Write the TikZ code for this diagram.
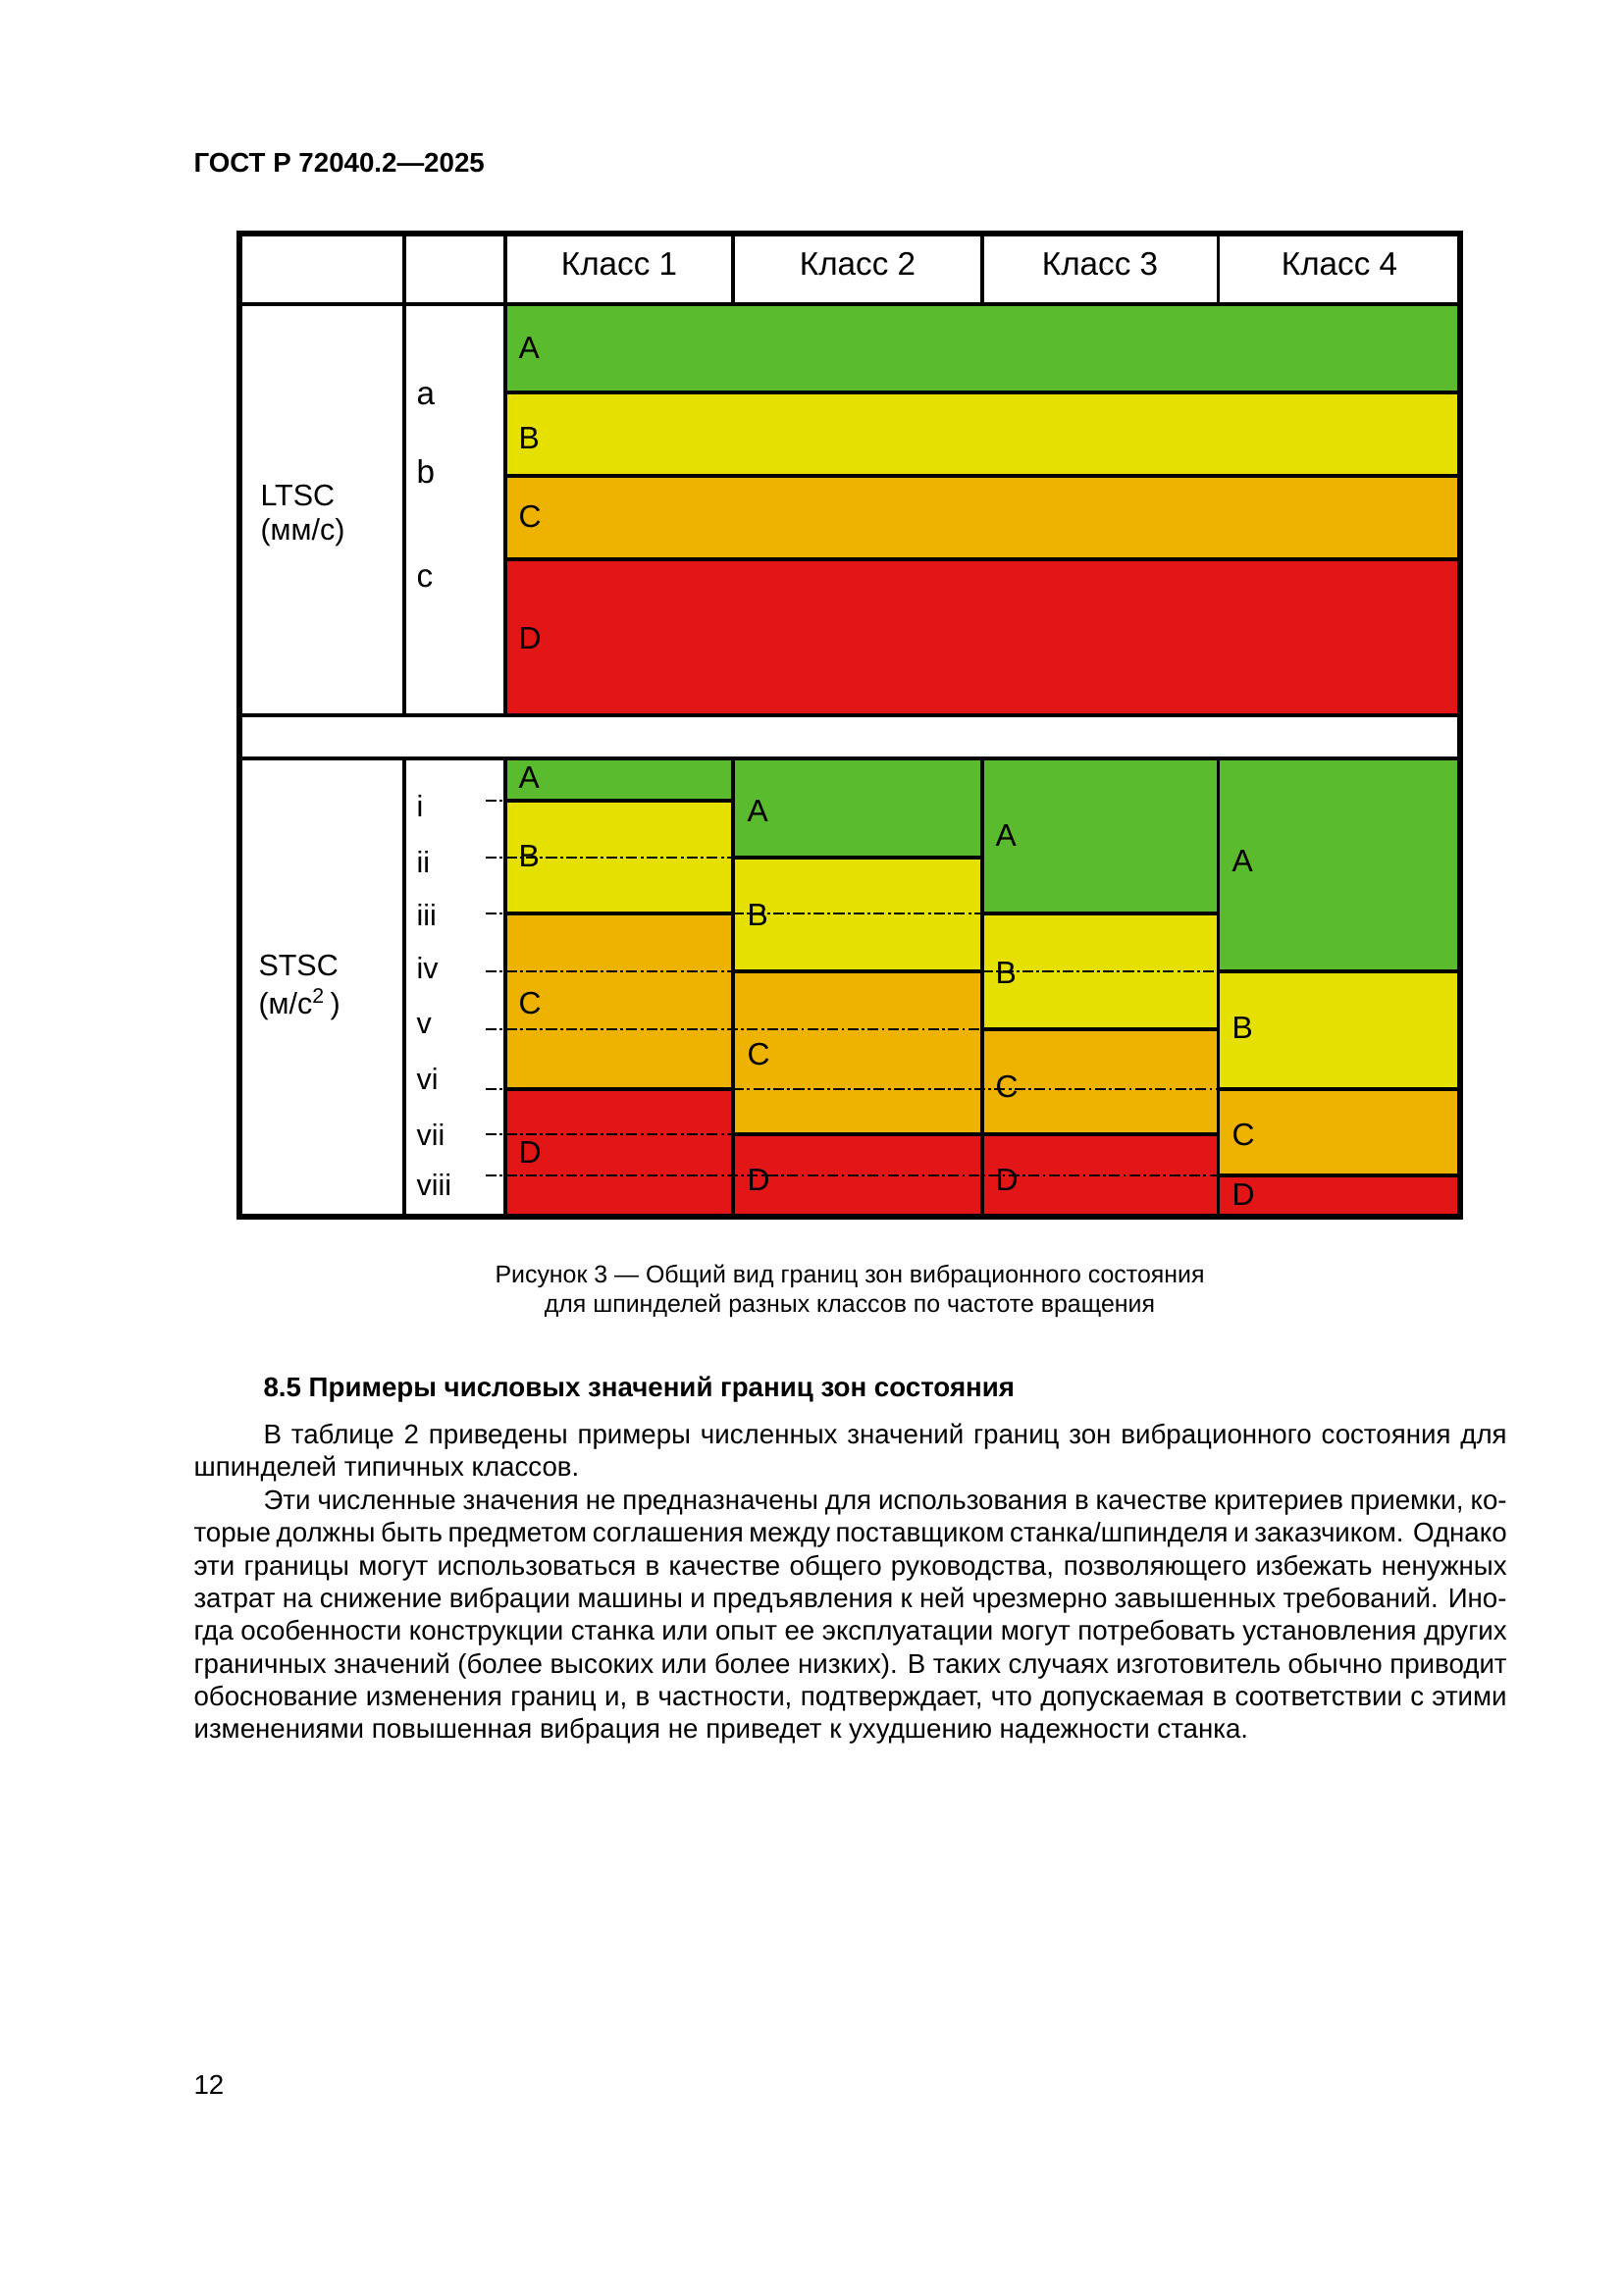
\documentclass[tikz,border=0pt]{standalone}
\usepackage{fontspec}
\setmainfont{Liberation Sans}
\definecolor{zgreen}{RGB}{91,187,46}
\definecolor{zyellow}{RGB}{230,224,0}
\definecolor{zorange}{RGB}{238,178,0}
\definecolor{zred}{RGB}{226,22,22}
\tikzset{
  txt/.style={anchor=base west, inner sep=0pt, font=\fontsize{10}{12}\selectfont},
  ctxt/.style={anchor=base, inner sep=0pt, font=\fontsize{9}{11}\selectfont},
  zl/.style={anchor=base west, inner sep=0pt, font=\fontsize{11.5}{13}\selectfont},
  hdr/.style={anchor=base, inner sep=0pt, font=\fontsize{12}{14}\selectfont},
  side/.style={anchor=base west, inner sep=0pt, font=\fontsize{11}{13}\selectfont},
  lett/.style={anchor=base west, inner sep=0pt, font=\fontsize{12}{14}\selectfont},
  rom/.style={anchor=base west, inner sep=0pt, font=\fontsize{11}{13}\selectfont},
  grid/.style={line width=1.1pt, black},
  zone/.style={line width=1.2pt, black},
  zdash/.style={line width=0.85pt, black, dash pattern=on 4pt off 1.2pt on 1pt off 1.2pt},
}
\begin{document}
\begin{tikzpicture}[x=0.012696cm, y=-0.012696cm]
\useasboundingbox (0,0) rectangle (1654,2339);
\fill[white] (0,0) rectangle (1654,2339);
% geometry
\def\xL{244}\def\xR{1488}\def\yT{238}\def\yB{1240}
\def\cA{412}\def\cB{515}\def\cC{747}\def\cD{1001}\def\cE{1241}
\def\yH{310}\def\lA{400}\def\lB{485}\def\lC{570}\def\lD{729}\def\yG{773}
\def\rA{816}\def\rB{874}\def\rC{931}\def\rD{990}\def\rE{1049}\def\rF{1110}\def\rG{1156}\def\rH{1198}
\def\xS{495}
% LTSC bands
\fill[zgreen] (\cB,\yH) rectangle (\xR,\lA);
\fill[zyellow] (\cB,\lA) rectangle (\xR,\lB);
\fill[zorange] (\cB,\lB) rectangle (\xR,\lC);
\fill[zred] (\cB,\lC) rectangle (\xR,\lD);
% STSC class 1
\fill[zgreen] (\cB,\yG) rectangle (\cC,\rA);
\fill[zyellow] (\cB,\rA) rectangle (\cC,\rC);
\fill[zorange] (\cB,\rC) rectangle (\cC,\rF);
\fill[zred] (\cB,\rF) rectangle (\cC,\yB);
% class 2
\fill[zgreen] (\cC,\yG) rectangle (\cD,\rB);
\fill[zyellow] (\cC,\rB) rectangle (\cD,\rD);
\fill[zorange] (\cC,\rD) rectangle (\cD,\rG);
\fill[zred] (\cC,\rG) rectangle (\cD,\yB);
% class 3
\fill[zgreen] (\cD,\yG) rectangle (\cE,\rC);
\fill[zyellow] (\cD,\rC) rectangle (\cE,\rE);
\fill[zorange] (\cD,\rE) rectangle (\cE,\rG);
\fill[zred] (\cD,\rG) rectangle (\cE,\yB);
% class 4
\fill[zgreen] (\cE,\yG) rectangle (\xR,\rD);
\fill[zyellow] (\cE,\rD) rectangle (\xR,\rF);
\fill[zorange] (\cE,\rF) rectangle (\xR,\rH);
\fill[zred] (\cE,\rH) rectangle (\xR,\yB);
% dash-dot level lines
\draw[zdash] (\xS,\rA) -- (\cB,\rA);
\draw[zdash] (\xS,\rB) -- (\cC,\rB);
\draw[zdash] (\xS,\rC) -- (\cB,\rC) (\cC,\rC) -- (\cD,\rC);
\draw[zdash] (\xS,\rD) -- (\cC,\rD) (\cD,\rD) -- (\cE,\rD);
\draw[zdash] (\xS,\rE) -- (\cD,\rE);
\draw[zdash] (\xS,\rF) -- (\cB,\rF) (\cC,\rF) -- (\cE,\rF);
\draw[zdash] (\xS,\rG) -- (\cC,\rG);
\draw[zdash] (\xS,\rH) -- (\cE,\rH);
% zone borders
\draw[zone] (\cB,\rA) -- (\cC,\rA);
\draw[zone] (\cC,\rB) -- (\cD,\rB);
\draw[zone] (\cB,\rC) -- (\cC,\rC) (\cD,\rC) -- (\cE,\rC);
\draw[zone] (\cC,\rD) -- (\cD,\rD) (\cE,\rD) -- (\xR,\rD);
\draw[zone] (\cD,\rE) -- (\cE,\rE);
\draw[zone] (\cB,\rF) -- (\cC,\rF) (\cE,\rF) -- (\xR,\rF);
\draw[zone] (\cC,\rG) -- (\cE,\rG);
\draw[zone] (\cE,\rH) -- (\xR,\rH);
% grid
\draw[grid] (\xL,\yH) -- (\xR,\yH);
\draw[grid] (\cB,\lA) -- (\xR,\lA) (\cB,\lB) -- (\xR,\lB) (\cB,\lC) -- (\xR,\lC);
\draw[grid] (\xL,\lD) -- (\xR,\lD) (\xL,\yG) -- (\xR,\yG);
\draw[grid] (\cA,\yT) -- (\cA,\lD) (\cA,\yG) -- (\cA,\yB);
\draw[grid] (\cB,\yT) -- (\cB,\lD) (\cB,\yG) -- (\cB,\yB);
\draw[grid] (\cC,\yT) -- (\cC,\yH) (\cC,\yG) -- (\cC,\yB);
\draw[grid] (\cD,\yT) -- (\cD,\yH) (\cD,\yG) -- (\cD,\yB);
\draw[grid] (\cE,\yT) -- (\cE,\yH) (\cE,\yG) -- (\cE,\yB);
\draw[line width=1.9pt] (\xL,\yT) rectangle (\xR,\yB);
% header row
\node[hdr] (k1) at (631,281) {Класс 1};
\node[hdr] (k2) at (874,281) {Класс 2};
\node[hdr] (k3) at (1121,281) {Класс 3};
\node[hdr] (k4) at (1365,281) {Класс 4};
% LTSC
\node[side] (ltsc) at (265,516) {LTSC};
\node[side] (ltscu) at (265,551) {(мм/с)};
\node[lett] (la) at (424,413) {a};
\node[lett] (lb) at (424,493) {b};
\node[lett] (lc) at (424,599) {c};
\node[zl] (LA) at (528,366) {A};
\node[zl] (LB) at (528,458) {B};
\node[zl] (LC) at (528,538) {C};
\node[zl] (LD) at (528,662) {D};
% STSC
\node[side] (stsc) at (263,994) {STSC};
\node[side] (stscu) at (263,1033) {(м/с\textsuperscript{2}\,)};
\node[rom] (ri) at (424,832) {i};
\node[rom] (rii) at (424,889) {ii};
\node[rom] (riii) at (424,943) {iii};
\node[rom] (riv) at (424,997) {iv};
\node[rom] (rv) at (424,1053) {v};
\node[rom] (rvi) at (424,1110) {vi};
\node[rom] (rvii) at (424,1167) {vii};
\node[rom] (rviii) at (424,1218) {viii};
\node[zl] (a1) at (528,803) {A};
\node[zl] (b1) at (528,883) {B};
\node[zl] (c1) at (528,1033) {C};
\node[zl] (d1) at (528,1185) {D};
\node[zl] (a2) at (761,837) {A};
\node[zl] (b2) at (761,943) {B};
\node[zl] (c2) at (761,1085) {C};
\node[zl] (d2) at (761,1213) {D};
\node[zl] (a3) at (1014,862) {A};
\node[zl] (b3) at (1014,1002) {B};
\node[zl] (c3) at (1014,1118) {C};
\node[zl] (d3) at (1014,1213) {D};
\node[zl] (a4) at (1255,888) {A};
\node[zl] (b4) at (1255,1058) {B};
\node[zl] (c4) at (1255,1167) {C};
\node[zl] (d4) at (1255,1228) {D};
% page header
\node[txt, font=\fontsize{10}{12}\selectfont\bfseries] (gost) at (197,176) {ГОСТ Р 72040.2—2025};
% caption
\node[ctxt] (cap1) at (866,1307) {Рисунок 3 — Общий вид границ зон вибрационного состояния};
\node[ctxt] (cap2) at (866,1337) {для шпинделей разных классов по частоте вращения};
% heading
\node[txt, font=\fontsize{10}{12}\selectfont\bfseries] (head) at (268,1423) {8.5 Примеры числовых значений границ зон состояния};
% body
\node[txt] (t1) at (268,1471) {\makebox[16.086cm][s]{В таблице 2 приведены примеры численных значений границ зон вибрационного состояния для}};
\node[txt] (t2) at (197,1504) {шпинделей типичных классов.};
\node[txt] (t3) at (268,1538) {\makebox[16.086cm][s]{Эти численные значения не предназначены для использования в качестве критериев приемки, ко-}};
\node[txt] (t4) at (197,1571) {\makebox[16.987cm][s]{торые должны быть предметом соглашения между поставщиком станка/шпинделя и заказчиком. Однако}};
\node[txt] (t5) at (197,1605) {\makebox[16.987cm][s]{эти границы могут использоваться в качестве общего руководства, позволяющего избежать ненужных}};
\node[txt] (t6) at (197,1638) {\makebox[16.987cm][s]{затрат на снижение вибрации машины и предъявления к ней чрезмерно завышенных требований. Ино-}};
\node[txt] (t7) at (197,1671) {\makebox[16.987cm][s]{гда особенности конструкции станка или опыт ее эксплуатации могут потребовать установления других}};
\node[txt] (t8) at (197,1705) {\makebox[16.987cm][s]{граничных значений (более высоких или более низких). В таких случаях изготовитель обычно приводит}};
\node[txt] (t9) at (197,1738) {\makebox[16.987cm][s]{обоснование изменения границ и, в частности, подтверждает, что допускаемая в соответствии с этими}};
\node[txt] (t10) at (197,1771) {изменениями повышенная вибрация не приведет к ухудшению надежности станка.};
% page number
\node[txt] (pg) at (197,2134) {12};
\end{tikzpicture}
\end{document}
